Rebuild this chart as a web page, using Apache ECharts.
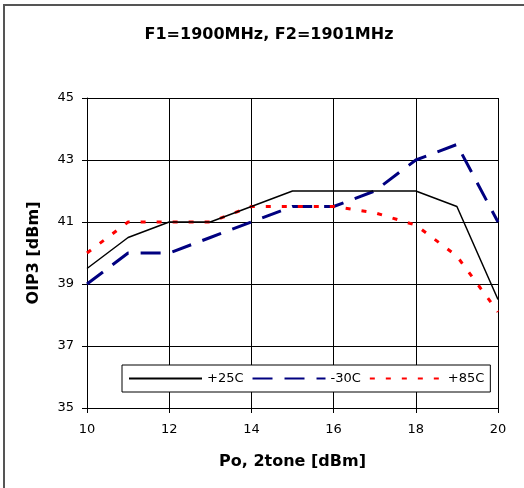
<!DOCTYPE html>
<html>
<head>
<meta charset="utf-8">
<script src="https://cdn.jsdelivr.net/npm/echarts@6/dist/echarts.min.js"></script>
<style>html,body{margin:0;padding:0;background:#fff;}#c{width:524px;height:488px;}</style>
</head>
<body>
<div id="c"></div>
<script>
var xValues = [10, 11, 12, 13, 14, 15, 16, 17, 18, 19, 20];
var s25 = [39.5, 40.5, 41, 41, 41.5, 42, 42, 42, 42, 41.5, 38.5];
var sM30 = [39, 40, 40, 40.5, 41, 41.5, 41.5, 42, 43, 43.5, 41];
var s85 = [40, 41, 41, 41, 41.5, 41.5, 41.5, 41.3, 40.9, 39.9, 38.1];
var xTicks = [10, 12, 14, 16, 18, 20];
var yTicks = [35, 37, 39, 41, 43, 45];

function pairs(ys) { return xValues.map(function (x, i) { return [x, ys[i]]; }); }

var font = 'DejaVu Sans, Liberation Sans, Arial, sans-serif';
var chart = echarts.init(document.getElementById('c'), null, { renderer: 'canvas' });
chart.setOption({
  animation: false,
  backgroundColor: '#fff',
  title: {
    text: 'F1=1900MHz, F2=1901MHz',
    left: 264, top: 22, textAlign: 'center',
    textStyle: { fontFamily: font, fontSize: 16, fontWeight: 'bold', color: '#000' }
  },
  graphic: [{
    type: 'rect', silent: true, z: -1,
    shape: { x: 4, y: 5, width: 700, height: 700 },
    style: { fill: 'none', stroke: '#555', lineWidth: 2 }
  }],
  grid: { left: 87, right: 26, top: 98, bottom: 80, containLabel: false },
  xAxis: {
    type: 'value', min: xTicks[0], max: xTicks[xTicks.length - 1], interval: 2,
    name: 'Po, 2tone [dBm]', nameLocation: 'middle', nameGap: 46,
    nameTextStyle: { fontFamily: font, fontSize: 16, fontWeight: 'bold', color: '#000' },
    axisLine: { lineStyle: { color: '#000', width: 1 } },
    axisTick: { show: true, length: 5, inside: false, lineStyle: { color: '#000' } },
    axisLabel: { fontFamily: font, fontSize: 13, color: '#000', margin: 15 },
    splitLine: { show: true, lineStyle: { color: '#000', width: 1 } }
  },
  yAxis: {
    type: 'value', min: yTicks[0], max: yTicks[yTicks.length - 1], interval: 2,
    name: 'OIP3 [dBm]', nameLocation: 'middle', nameGap: 45, nameRotate: 90,
    nameTextStyle: { fontFamily: font, fontSize: 16, fontWeight: 'bold', color: '#000' },
    axisLine: { show: true, lineStyle: { color: '#000', width: 1 } },
    axisTick: { show: true, length: 5, inside: false, lineStyle: { color: '#000' } },
    axisLabel: { fontFamily: font, fontSize: 13, color: '#000', margin: 13 },
    splitLine: { show: true, lineStyle: { color: '#000', width: 1 } }
  },
  legend: {
    left: 122, top: 365,
    padding: [7, 6, 7, 6],
    itemWidth: 73, itemHeight: 14, itemGap: 8,
    borderColor: '#000', borderWidth: 1, backgroundColor: '#fff',
    itemStyle: { opacity: 0 },
    textStyle: { fontFamily: font, fontSize: 13, color: '#000' },
    data: ['+25C', '-30C', '+85C']
  },
  series: [
    {
      name: '+25C', type: 'line', data: pairs(s25), symbol: 'none', z: 3,
      lineStyle: { color: '#000', width: 1.5, type: 'solid' },
      itemStyle: { color: '#000' }
    },
    {
      name: '-30C', type: 'line', data: pairs(sM30), symbol: 'none', z: 2,
      lineStyle: { color: '#000080', width: 3, type: [20, 12] },
      itemStyle: { color: '#000080' }
    },
    {
      name: '+85C', type: 'line', data: pairs(s85), symbol: 'none', z: 2,
      lineStyle: { color: '#ff0000', width: 3, type: [5, 11] },
      itemStyle: { color: '#ff0000' }
    }
  ]
});
</script>
</body>
</html>
